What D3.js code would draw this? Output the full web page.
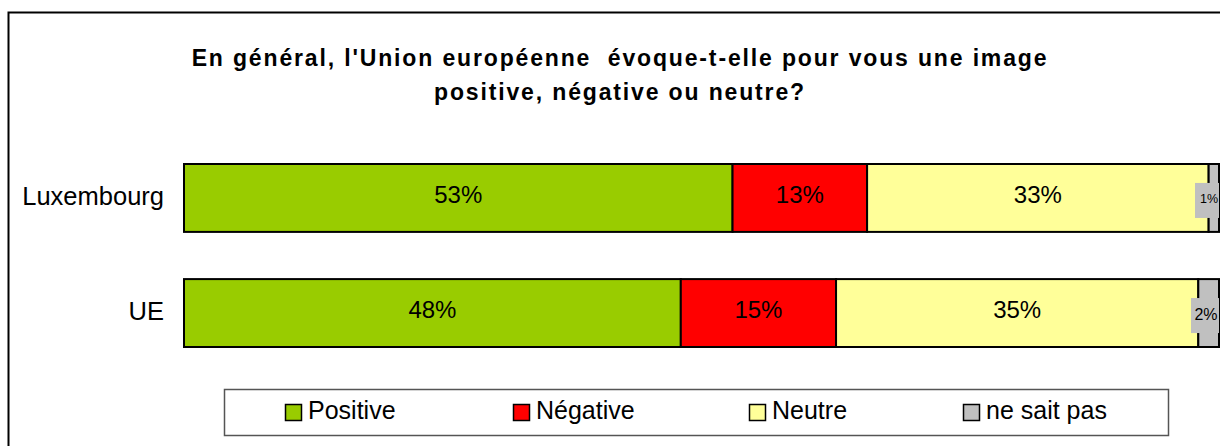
<!DOCTYPE html>
<html>
<head>
<meta charset="utf-8">
<script src="https://cdn.jsdelivr.net/npm/d3@7"></script>
<style>
  body { margin: 0; background: #fff; }
  svg { display: block; font-family: "Liberation Sans", Arial, sans-serif; }
</style>
</head>
<body>
<div id="chart"></div>
<script>
// data
const categories = ["Luxembourg", "UE"];
const seriesNames = ["Positive", "Négative", "Neutre", "ne sait pas"];
const luxembourgValues = [53, 13, 33, 1];
const ueValues = [48, 15, 35, 2];
const allValues = [luxembourgValues, ueValues];
const titleLines = ["En général, l'Union européenne  évoque-t-elle pour vous une image",
                    "positive, négative ou neutre?"];

const COLORS = ["#99cc00", "#ff0000", "#ffff99", "#c0c0c0"];

const W = 1220, H = 446;

const svg = d3.select("#chart").append("svg")
    .attr("width", W)
    .attr("height", H);

// outer frame
svg.append("rect")
    .attr("x", 8.5).attr("y", 12.5)
    .attr("width", W + 10).attr("height", H)
    .attr("fill", "#fff")
    .attr("stroke", "#000")
    .attr("stroke-width", 2);

// title
svg.selectAll(".title")
    .data(titleLines)
    .enter()
    .append("text")
    .attr("class", "title")
    .attr("x", 620)
    .attr("y", (d, i) => 66 + i * 34)
    .attr("text-anchor", "middle")
    .attr("font-size", "23px")
    .attr("font-weight", "bold")
    .attr("letter-spacing", "1.85px")
    .attr("fill", "#000")
    .style("white-space", "pre")
    .text(d => d);

// scales
const xScale = d3.scaleLinear().domain([0, 100]).range([184, 1219]);
const yScale = d3.scaleBand()
    .domain(categories)
    .range([164, 347])
    .paddingInner(0.41)
    .paddingOuter(0);

// stacked rows
const rows = categories.map((c, i) => {
    let acc = 0;
    return seriesNames.map((s, j) => {
        const start = acc;
        acc += allValues[i][j];
        return { cat: c, series: s, idx: j, value: allValues[i][j], x0: start, x1: acc };
    });
});

const rowG = svg.selectAll(".row")
    .data(rows)
    .enter()
    .append("g")
    .attr("class", "row");

rowG.selectAll("rect")
    .data(d => d)
    .enter()
    .append("rect")
    .attr("x", d => xScale(d.x0))
    .attr("y", d => yScale(d.cat))
    .attr("width", d => xScale(d.x1) - xScale(d.x0))
    .attr("height", yScale.bandwidth())
    .attr("fill", d => COLORS[d.idx])
    .attr("stroke", "#000")
    .attr("stroke-width", 2);

// value labels on the big segments
rowG.selectAll(".val")
    .data(d => d.filter(s => s.value >= 5))
    .enter()
    .append("text")
    .attr("class", "val")
    .attr("x", d => (xScale(d.x0) + xScale(d.x1)) / 2)
    .attr("y", d => yScale(d.cat) + yScale.bandwidth() / 2 + 5)
    .attr("text-anchor", "middle")
    .attr("font-size", "24px")
    .attr("fill", "#000")
    .text(d => d.value + "%");

// small segments: label with grey box
const small = rows.flat().filter(s => s.value < 5);
const smallG = svg.selectAll(".small")
    .data(small)
    .enter()
    .append("g")
    .attr("class", "small");

smallG.append("rect")
    .attr("x", d => d.value < 2 ? 1195 : 1191)
    .attr("y", d => yScale(d.cat) + yScale.bandwidth() / 2 - 15)
    .attr("width", d => d.value < 2 ? 24 : 28)
    .attr("height", 35)
    .attr("fill", "#c0c0c0");

smallG.append("text")
    .attr("x", d => d.value < 2 ? 1209 : 1206)
    .attr("y", d => yScale(d.cat) + yScale.bandwidth() / 2 + (d.value < 2 ? 5 : 7))
    .attr("text-anchor", "middle")
    .attr("font-size", d => d.value < 2 ? "12.5px" : "16px")
    .attr("fill", "#000")
    .text(d => d.value + "%");

// category labels
svg.selectAll(".cat")
    .data(categories)
    .enter()
    .append("text")
    .attr("class", "cat")
    .attr("x", 164)
    .attr("y", d => yScale(d) + yScale.bandwidth() / 2 + 7)
    .attr("text-anchor", "end")
    .attr("font-size", "25.5px")
    .attr("fill", "#000")
    .text(d => d);

// legend
svg.append("rect")
    .attr("x", 224.5).attr("y", 389.5)
    .attr("width", 944).attr("height", 46)
    .attr("fill", "#fff")
    .attr("stroke", "#555")
    .attr("stroke-width", 1.5);

const legendX = [285, 513, 749, 963];
const leg = svg.selectAll(".leg")
    .data(seriesNames)
    .enter()
    .append("g")
    .attr("class", "leg")
    .attr("transform", (d, i) => `translate(${legendX[i]},404)`);

leg.append("rect")
    .attr("x", 0.5).attr("y", 0.5)
    .attr("width", 16).attr("height", 16)
    .attr("fill", (d, i) => COLORS[i])
    .attr("stroke", "#000")
    .attr("stroke-width", 1.5);

leg.append("text")
    .attr("x", 23)
    .attr("y", 15)
    .attr("font-size", "25px")
    .attr("fill", "#000")
    .text(d => d);
</script>
</body>
</html>
